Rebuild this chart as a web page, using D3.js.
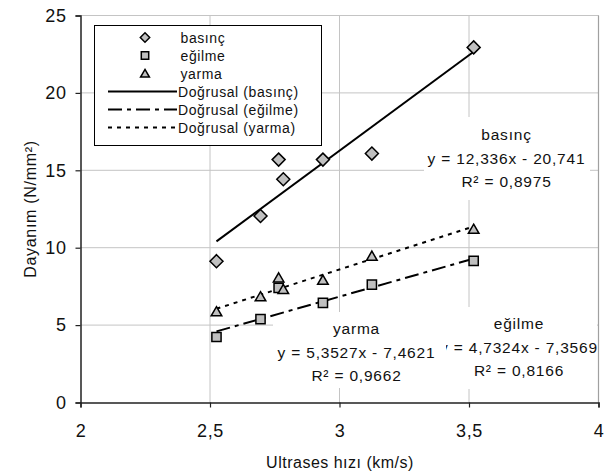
<!DOCTYPE html>
<html lang="tr">
<head>
<meta charset="utf-8">
<title>Dayanım - Ultrases hızı</title>
<script src="https://cdn.jsdelivr.net/npm/d3@7"></script>
<style>
	body { margin: 0; background: white; }
	svg text { font-family: "Liberation Sans", Arial, sans-serif; fill: #111; }
</style>
</head>
<body>
<svg id="chart" width="608" height="471"></svg>
<script>
// values
var hiz    = [2.525, 2.695, 2.765, 2.783, 2.936, 3.125, 3.518]   // km/s
var basinc = [9.13, 12.05, 15.69, 14.42, 15.69, 16.08, 22.94]
var egilme = [4.23, 5.39, 7.41, null, 6.44, 7.62, 9.15]
var yarma  = [5.86, 6.83, 8.05, 7.30, 7.90, 9.45, 11.19]

var seriesNames = ["basınç", "eğilme", "yarma"]
var slopes      = [12.336, 4.7324, 5.3527]
var intercepts  = [-20.741, -7.3569, -7.4621]
var eqTexts     = ["y = 12,336x - 20,741", "y = 4,7324x - 7,3569", "y = 5,3527x - 7,4621"]
var r2Texts     = ["R² = 0,8975", "R² = 0,8166", "R² = 0,9662"]

var xTicks = [2, 2.5, 3, 3.5, 4]
var yTicks = [0, 5, 10, 15, 20, 25]

var svg = d3.select("#chart")
var x = d3.scaleLinear().domain([2, 4]).range([80.5, 598.5])
var y = d3.scaleLinear().domain([0, 25]).range([402.5, 15.5])
var fmt = function(d) { return String(d).replace(".", ",") }

// gridlines
svg.append("g").selectAll("line").data(yTicks.slice(1)).enter().append("line")
	.attr("x1", x(2)).attr("x2", x(4))
	.attr("y1", d => y(d)).attr("y2", d => y(d))
	.attr("stroke", "#c4c4c4").attr("stroke-width", 1)
svg.append("g").selectAll("line").data(xTicks.slice(1)).enter().append("line")
	.attr("x1", d => x(d)).attr("x2", d => x(d))
	.attr("y1", y(0)).attr("y2", y(25))
	.attr("stroke", "#c4c4c4").attr("stroke-width", 1)
// right border a bit darker
svg.append("line").attr("x1", x(4)).attr("x2", x(4)).attr("y1", y(0)).attr("y2", y(25))
	.attr("stroke", "#a0a0a0").attr("stroke-width", 1.2)

// axes
var yAxis = d3.axisLeft(y).tickValues(yTicks).tickSize(5).tickPadding(9).tickFormat(fmt)
var xAxis = d3.axisBottom(x).tickValues(xTicks).tickSize(5).tickPadding(17).tickFormat(fmt)
var gy = svg.append("g").attr("transform", "translate(" + x(2) + ",0)").call(yAxis)
var gx = svg.append("g").attr("transform", "translate(0," + y(0) + ")").call(xAxis)
;[gx, gy].forEach(function(g) {
	g.select(".domain").attr("stroke", "#222").attr("stroke-width", 1.5)
	g.selectAll(".tick line").attr("stroke", "#222").attr("stroke-width", 1.2)
	g.selectAll("text").attr("font-size", 18).style("font-family", "Liberation Sans, Arial, sans-serif")
		.attr("letter-spacing", 0.6)
})

// axis titles
svg.append("text").attr("x", 340).attr("y", 468).attr("text-anchor", "middle")
	.attr("font-size", 16).attr("letter-spacing", 0.5).text("Ultrases hızı (km/s)")
svg.append("text").attr("transform", "translate(36,209) rotate(-90)").attr("text-anchor", "middle")
	.attr("font-size", 16).attr("letter-spacing", 0.7).text("Dayanım (N/mm²)")

// trendline labels (white boxes hide the grid behind them)
var labels = [
	{ s: 1, cx: 519, cy: 323, box: [434, 307, 163, 82] },
	{ s: 2, cx: 356.5, cy: 328, box: [273, 312, 173, 76] },
	{ s: 0, cx: 506.5, cy: 134, box: [424, 117, 166, 83] }
]
labels.forEach(function(l) {
	var g = svg.append("g")
	g.append("rect").attr("x", l.box[0]).attr("y", l.box[1]).attr("width", l.box[2]).attr("height", l.box[3])
		.attr("fill", "white")
	var lines = [seriesNames[l.s], eqTexts[l.s], r2Texts[l.s]]
	g.selectAll("text").data(lines).enter().append("text")
		.attr("x", l.cx).attr("y", (d, i) => l.cy + 6 + i * 23.5)
		.attr("text-anchor", "middle").attr("font-size", 15.5).attr("letter-spacing", 0.8)
		.text(d => d)
})

// trendlines
var dashes = [null, "14,5,4,5", "4,5"]
var allY = [basinc, egilme, yarma]
allY.forEach(function(vals, s) {
	var xs = hiz.filter((h, i) => vals[i] != null)
	var x0 = d3.min(xs), x1 = d3.max(xs)
	svg.append("line")
		.attr("x1", x(x0)).attr("y1", y(slopes[s] * x0 + intercepts[s]))
		.attr("x2", x(x1)).attr("y2", y(slopes[s] * x1 + intercepts[s]))
		.attr("stroke", "black").attr("stroke-width", 2)
		.attr("stroke-dasharray", dashes[s])
})

// markers
var shapes = [d3.symbolDiamond2, d3.symbolSquare2, d3.symbolTriangle2]
var sizes = [108, 108, 80]
allY.forEach(function(vals, s) {
	var pts = hiz.map((h, i) => [h, vals[i]]).filter(p => p[1] != null)
	svg.append("g").selectAll("path").data(pts).enter().append("path")
		.attr("d", d3.symbol().type(shapes[s]).size(sizes[s]))
		.attr("transform", d => "translate(" + x(d[0]) + "," + (y(d[1]) + (s == 2 ? 1 : 0)) + ")")
		.attr("fill", "#c0c0c0").attr("stroke", "black").attr("stroke-width", 1.5)
})

// legend
var lg = svg.append("g")
lg.append("rect").attr("x", 94.5).attr("y", 25.5).attr("width", 227).attr("height", 120)
	.attr("fill", "white").attr("stroke", "black").attr("stroke-width", 1)
var rowY = d => 37.5 + d * 18
var legSizes = [56, 70, 56]
seriesNames.forEach(function(n, s) {
	lg.append("path").attr("d", d3.symbol().type(shapes[s]).size(legSizes[s]))
		.attr("transform", "translate(145," + (rowY(s) + (s == 2 ? 1 : 0)) + ")")
		.attr("fill", "#c0c0c0").attr("stroke", "black").attr("stroke-width", 1.5)
	lg.append("text").attr("x", 180.5).attr("y", rowY(s) + 5).attr("font-size", 14)
		.attr("letter-spacing", 0.6).text(n)
	lg.append("line").attr("x1", 108).attr("x2", 177).attr("y1", rowY(s + 3)).attr("y2", rowY(s + 3))
		.attr("stroke", "black").attr("stroke-width", 2).attr("stroke-dasharray", dashes[s])
	lg.append("text").attr("x", 178).attr("y", rowY(s + 3) + 5).attr("font-size", 14)
		.attr("letter-spacing", 0.6).text("Doğrusal (" + n + ")")
})
</script>
</body>
</html>
